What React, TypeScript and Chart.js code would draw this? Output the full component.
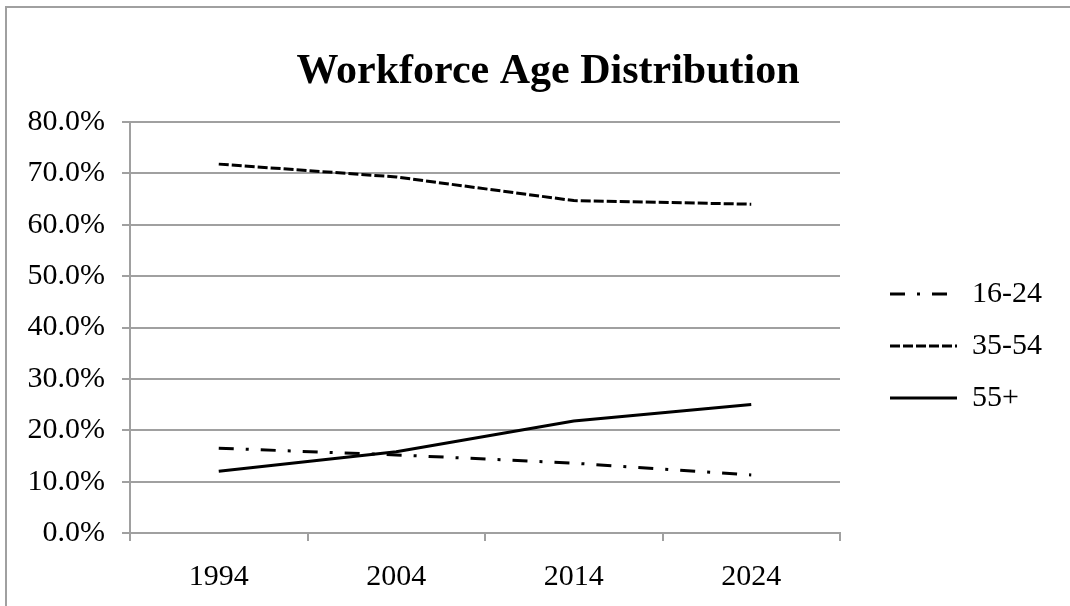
import React, { useEffect, useRef } from 'react';
import { Chart, registerables } from 'chart.js';

Chart.register(...registerables);

// ---- data ----
const years = ['1994', '2004', '2014', '2024'];
const age16to24 = [16.5, 15.2, 13.6, 11.3];
const age35to54 = [71.8, 69.3, 64.7, 64.0];
const age55plus = [12.0, 15.8, 21.8, 25.0];
const seriesNames = ['16-24', '35-54', '55+'];
const chartTitle = 'Workforce Age Distribution';

const FONT = "'Liberation Serif', 'Times New Roman', serif";
const GRAY = '#a0a0a0';

const layoutTweaks = {
  id: 'layoutTweaks',
  afterLayout(chart: any) {
    const lg = chart.legend;
    if (lg) {
      lg.left = 868;
      lg.width = 200;
      lg.right = 1068;
      lg.top += 37;
      lg.bottom += 37;
    }
    const tb = chart.titleBlock;
    if (tb) {
      const w = tb.width;
      const c = 548;
      tb.left = c - w / 2;
      tb.right = c + w / 2;
    }
  },
};

export default function App() {
  const ref = useRef<HTMLCanvasElement | null>(null);

  useEffect(() => {
    if (!ref.current) return;
    const chart = new Chart(ref.current, {
      type: 'line',
      data: {
        labels: years,
        datasets: [
          {
            label: seriesNames[0],
            data: age16to24,
            borderColor: '#000',
            backgroundColor: '#000',
            borderWidth: 3,
            borderDash: [15, 12, 3, 12],
            pointRadius: 0,
            tension: 0,
          },
          {
            label: seriesNames[1],
            data: age35to54,
            borderColor: '#000',
            backgroundColor: '#000',
            borderWidth: 3,
            borderDash: [10, 3],
            pointRadius: 0,
            tension: 0,
          },
          {
            label: seriesNames[2],
            data: age55plus,
            borderColor: '#000',
            backgroundColor: '#000',
            borderWidth: 3,
            pointRadius: 0,
            tension: 0,
          },
        ],
      },
      options: {
        responsive: false,
        animation: false,
        layout: { padding: { left: 0, right: 80, top: 12, bottom: 0 } },
        plugins: {
          title: {
            display: true,
            text: chartTitle,
            color: '#000',
            font: { family: FONT, size: 42, weight: 'bold' },
            padding: { top: 35, bottom: 24.6 },
          },
          legend: {
            position: 'right',
            maxWidth: 150,
            labels: {
              usePointStyle: true,
              pointStyle: 'line',
              pointStyleWidth: 67,
              color: '#000',
              font: { family: FONT, size: 30 },
              padding: 22,
              generateLabels: (chart: any) => {
                const items = (Chart as any).defaults.plugins.legend.labels.generateLabels(chart);
                return items.map((it: any) => {
                  const ds = chart.data.datasets[it.datasetIndex];
                  return { ...it, lineDash: ds.borderDash || [], lineWidth: 3, strokeStyle: '#000' };
                });
              },
            },
          },
          tooltip: { enabled: false },
        },
        scales: {
          x: {
            offset: true,
            grid: { offset: true, drawOnChartArea: false, color: GRAY, lineWidth: 2, tickLength: 8 },
            border: { color: GRAY, width: 2 },
            ticks: { color: '#000', font: { family: FONT, size: 30 }, padding: 18, maxRotation: 0 },
            afterFit: (s: any) => {
              s.height = 73;
            },
          },
          y: {
            min: 0,
            max: 80,
            grid: { color: GRAY, lineWidth: 2, tickLength: 8 },
            border: { color: GRAY, width: 2 },
            ticks: {
              stepSize: 10,
              color: '#000',
              font: { family: FONT, size: 30 },
              padding: 17,
              callback: (v: any) => Number(v).toFixed(1) + '%',
            },
            afterFit: (s: any) => {
              s.width = 130;
            },
          },
        },
      },
      plugins: [layoutTweaks],
    } as any);
    return () => chart.destroy();
  }, []);

  return (
    <div style={{ position: 'fixed', left: 0, top: 0, width: 1070, height: 606, overflow: 'hidden', background: '#fff' }}>
      <div
        style={{
          position: 'absolute',
          left: 5,
          top: 6,
          width: 1200,
          height: 800,
          borderTop: `2px solid ${GRAY}`,
          borderLeft: `2px solid ${GRAY}`,
        }}
      />
      <canvas ref={ref} width={1070} height={606} style={{ position: 'absolute', left: 0, top: 0, width: 1070, height: 606 }} />
    </div>
  );
}
